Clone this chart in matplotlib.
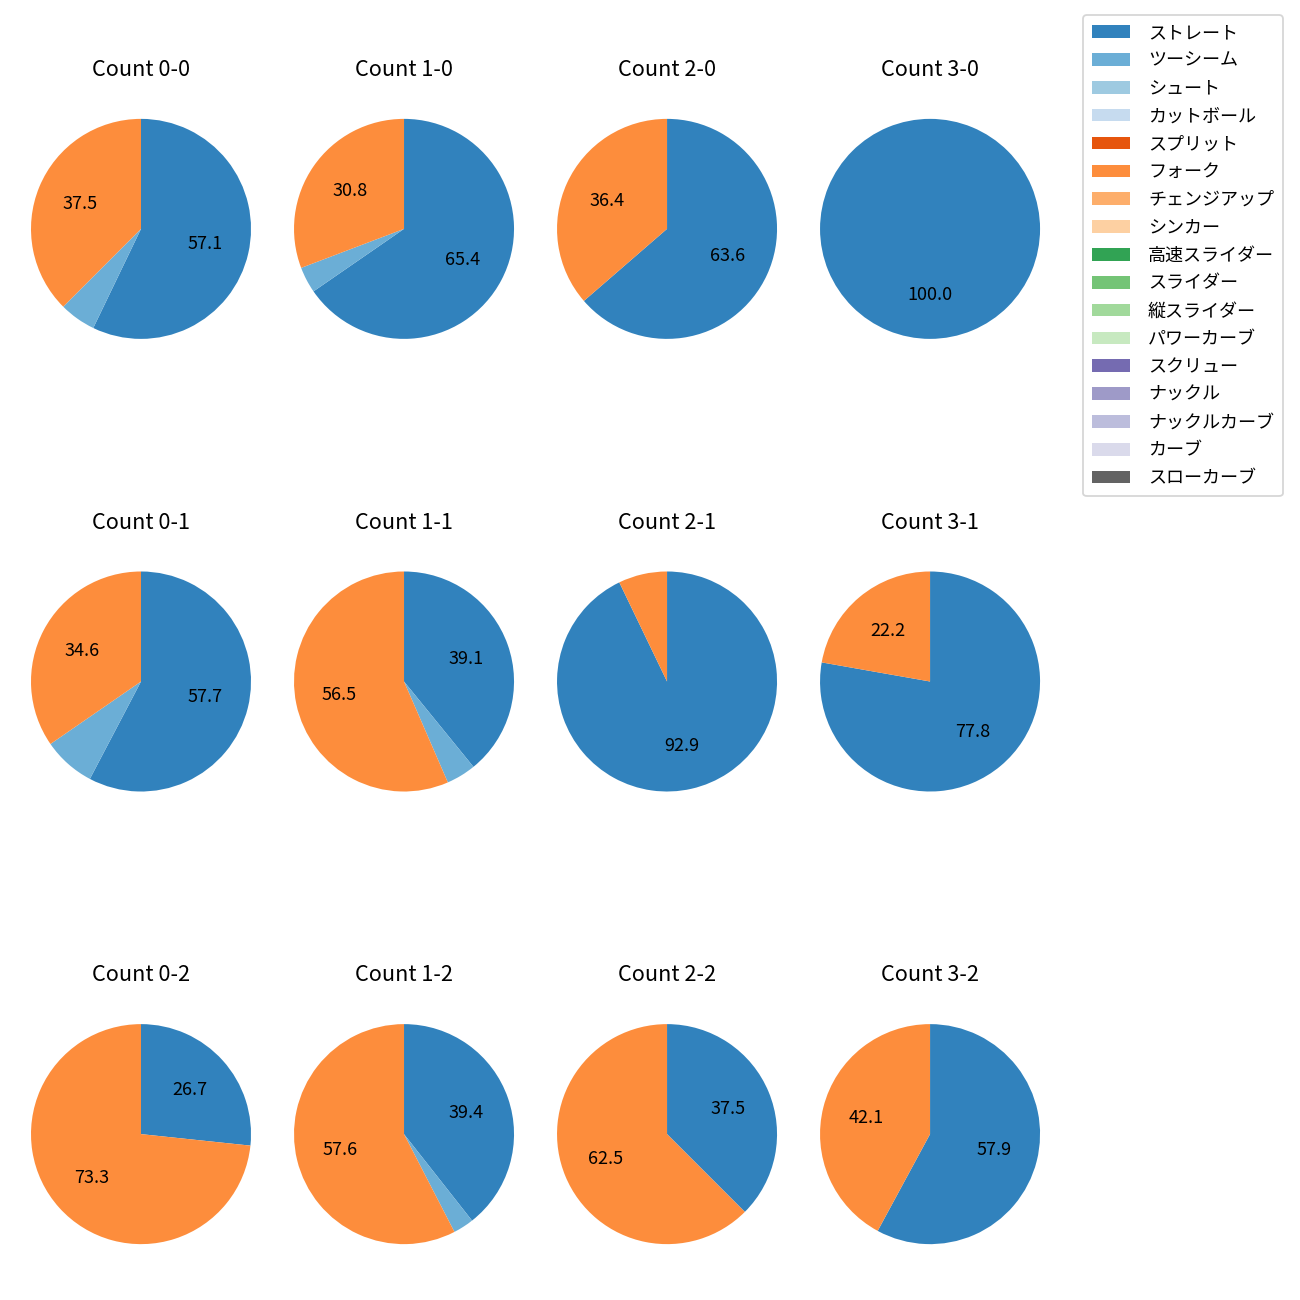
import matplotlib
matplotlib.use("Agg")
import matplotlib.pyplot as plt
from matplotlib.patches import Patch

plt.rcParams['font.family'] = ['Noto Sans CJK JP', 'DejaVu Sans']

# pitch types and legend colours (tab20c order)
pitch_types = ["ストレート", "ツーシーム", "シュート", "カットボール", "スプリット", "フォーク",
               "チェンジアップ", "シンカー", "高速スライダー", "スライダー", "縦スライダー",
               "パワーカーブ", "スクリュー", "ナックル", "ナックルカーブ", "カーブ", "スローカーブ"]
colors = ["#3182bd", "#6baed6", "#9ecae1", "#c6dbef", "#e6550d", "#fd8d3c", "#fdae6b",
          "#fdd0a2", "#31a354", "#74c476", "#a1d99b", "#c7e9c0", "#756bb1", "#9e9ac8",
          "#bcbddc", "#dadaeb", "#636363"]

balls = [0, 1, 2, 3]
strikes = [0, 1, 2]

# pitch counts per count: ストレート, ツーシーム, フォーク
straight = {(0, 0): 32, (1, 0): 17, (2, 0): 7, (3, 0): 1,
            (0, 1): 15, (1, 1): 9, (2, 1): 13, (3, 1): 7,
            (0, 2): 4, (1, 2): 13, (2, 2): 3, (3, 2): 11}
twoseam = {(0, 0): 3, (1, 0): 1, (2, 0): 0, (3, 0): 0,
           (0, 1): 2, (1, 1): 1, (2, 1): 0, (3, 1): 0,
           (0, 2): 0, (1, 2): 1, (2, 2): 0, (3, 2): 0}
fork = {(0, 0): 21, (1, 0): 8, (2, 0): 4, (3, 0): 0,
        (0, 1): 9, (1, 1): 13, (2, 1): 1, (3, 1): 2,
        (0, 2): 11, (1, 2): 19, (2, 2): 5, (3, 2): 8}


def autopct(p):
    return f"{p:.1f}" if p >= 10 else ""


fig, axes = plt.subplots(3, 4, figsize=(10, 10))
fig.subplots_adjust(left=0.00269, right=0.8212, wspace=-0.04364,
                    top=0.93923, bottom=0.012308, hspace=0.51)

for s in strikes:
    for b in balls:
        ax = axes[s, b]
        vals = [straight[(b, s)], twoseam[(b, s)], fork[(b, s)]]
        cols = [colors[0], colors[1], colors[5]]
        v = [x for x in vals if x > 0]
        c = [cc for x, cc in zip(vals, cols) if x > 0]
        ax.pie(v, colors=c, startangle=90, counterclock=False,
               autopct=autopct, textprops={'fontsize': 10})
        ax.set_title(f"Count {b}-{s}", fontsize=12, pad=8.5)

handles = [Patch(facecolor=c) for c in colors]
fig.legend(handles, pitch_types, loc='upper right', bbox_to_anchor=(0.987, 0.9885),
           borderaxespad=0, fontsize=10, labelspacing=0.545,
           handlelength=2.1, handletextpad=1.0, borderpad=0.5)

fig.savefig("out.png", dpi=130)
